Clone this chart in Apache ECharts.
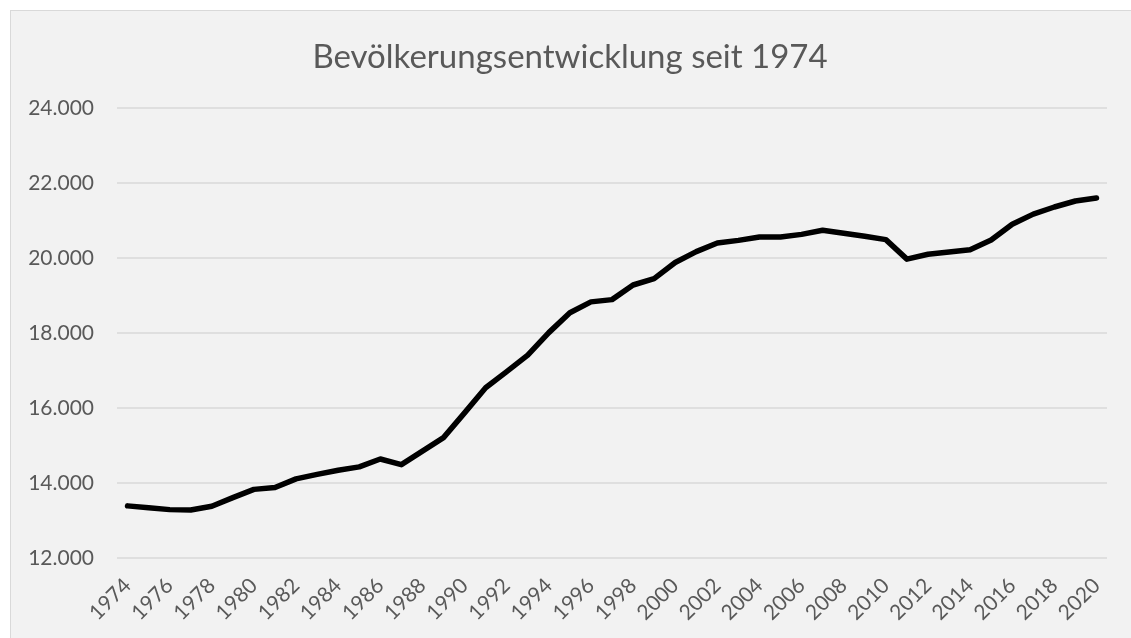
<!DOCTYPE html>
<html>
<head>
<meta charset="utf-8">
<style>
    body{
        margin: 0;
        background: #ffffff;
    }
    #chart{
        position: absolute;
        left: 10px;
        top: 10px;
        width: 1121px;
        height: 628px;
        border-left: 1px solid #d9d9d9;
        border-top: 1px solid #d9d9d9;
        background: #f2f2f2;
    }
</style>
<script src="https://cdn.jsdelivr.net/npm/echarts@6/dist/echarts.min.js"></script>
</head>
<body>
<div id="chart"></div>
<script>
    // Jahre 1974 - 2020
    let years = ['1974','1975','1976','1977','1978','1979','1980','1981','1982','1983',
        '1984','1985','1986','1987','1988','1989','1990','1991','1992','1993',
        '1994','1995','1996','1997','1998','1999','2000','2001','2002','2003',
        '2004','2005','2006','2007','2008','2009','2010','2011','2012','2013',
        '2014','2015','2016','2017','2018','2019','2020']
    let population = [13390, 13340, 13290, 13280, 13380, 13610, 13830, 13880, 14110, 14230,
        14340, 14430, 14640, 14490, 14850, 15210, 15870, 16540, 16970, 17410,
        18010, 18540, 18830, 18890, 19280, 19450, 19880, 20170, 20400, 20470,
        20560, 20560, 20630, 20740, 20660, 20580, 20490, 19970, 20100, 20160,
        20220, 20480, 20900, 21170, 21360, 21520, 21600]
    let yTicks = [12000, 14000, 16000, 18000, 20000, 22000, 24000]

    function fmt(v){
        let s = String(v)
        return s.replace(/\B(?=(\d{3})+(?!\d))/g, '.')
    }

    let chart = echarts.init(document.getElementById('chart'))
    let options = {
        backgroundColor: '#f2f2f2',
        animation: false,
        title: {
            text: 'Bevölkerungsentwicklung seit 1974',
            left: 554,
            top: 25,
            textAlign: 'center',
            textStyle: {
                fontFamily: 'Lato',
                fontSize: 33,
                fontWeight: 'normal',
                color: '#595959'
            }
        },
        grid: {
            left: 106,
            right: 25,
            top: 97,
            bottom: 81
        },
        xAxis: {
            type: 'category',
            boundaryGap: true,
            data: years,
            axisLine: {show: false},
            axisTick: {show: false},
            axisLabel: {
                interval: 1,
                rotate: 45,
                margin: 24,
                fontFamily: 'Lato',
                fontSize: 21,
                color: '#595959'
            }
        },
        yAxis: {
            type: 'value',
            min: yTicks[0],
            max: yTicks[yTicks.length - 1],
            interval: 2000,
            axisLine: {show: false},
            axisTick: {show: false},
            axisLabel: {
                margin: 23,
                fontFamily: 'Lato',
                fontSize: 21,
                color: '#595959',
                formatter: fmt
            },
            splitLine: {
                lineStyle: {color: '#d9d9d9', width: 1.5}
            }
        },
        series: [
            {
                name: 'Bevölkerung',
                type: 'line',
                data: population,
                symbol: 'none',
                lineStyle: {
                    color: '#000000',
                    width: 5.5,
                    cap: 'round',
                    join: 'round'
                }
            }
        ]
    }
    chart.setOption(options)
</script>
</body>
</html>
